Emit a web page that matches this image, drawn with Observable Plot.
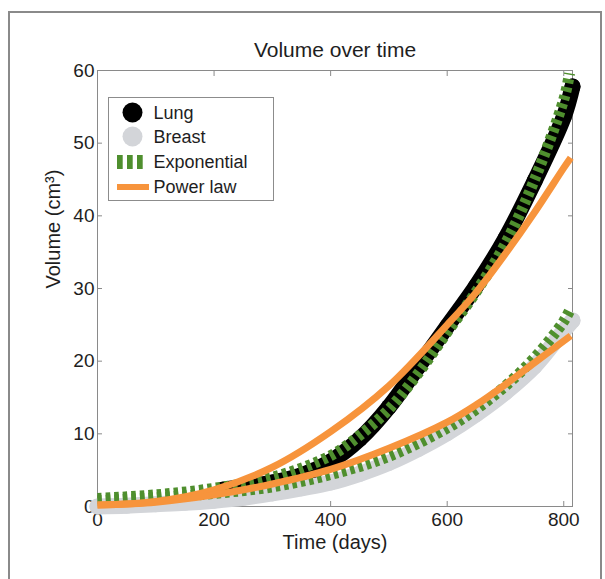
<!DOCTYPE html>
<html><head><meta charset="utf-8">
<script src="https://cdn.jsdelivr.net/npm/d3@7"></script>
<script src="https://cdn.jsdelivr.net/npm/@observablehq/plot@0.6"></script>
<style>
html,body{margin:0;padding:0;background:#fff;}
#wrap{position:relative;width:605px;height:579px;overflow:hidden;font-family:"Liberation Sans",Arial,Helvetica,sans-serif;background:#fff;}
#frame{position:absolute;left:8px;top:11px;width:590px;height:640px;border:2px solid #8a8a8a;}
#chart{position:absolute;left:0;top:0;}
#legend{position:absolute;left:108px;top:97px;width:164px;height:102px;border:1px solid #8c8c8c;background:#fff;}
</style></head><body>
<div id="wrap"><div id="frame"></div><div id="chart"></div><div id="legend"></div></div>
<script>
// ---- data ----
const title = "Volume over time";
const xLabel = "Time (days)";
const yLabel = "Volume (cm³)";
const xTicks = [0, 200, 400, 600, 800];
const yTicks = [0, 10, 20, 30, 40, 50, 60];
const legendLabels = ["Lung", "Breast", "Exponential", "Power law"];

const lungDays   = [215, 250, 300, 350, 400, 450, 500, 550, 600, 650, 700, 750, 800, 815];
const lungVolume = [2.3, 2.7, 3.3, 4.3, 6.2, 9.3, 13.7, 19.2, 24.8, 30.4, 36.9, 44.8, 53.6, 57.8];

const breastDays   = [0, 50, 100, 150, 200, 250, 300, 350, 400, 450, 500, 550, 600, 650, 700, 750, 800, 815];
const breastVolume = [0, 0.1, 0.3, 0.5, 0.8, 1.2, 1.8, 2.5, 3.3, 4.5, 6.0, 7.9, 10.1, 12.7, 15.7, 19.3, 24.2, 25.6];

const lungExpDays   = [0, 100, 200, 300, 400, 450, 500, 550, 600, 650, 700, 750, 800, 810];
const lungExpVolume = [1.1, 1.6, 2.5, 4.0, 7.0, 9.8, 13.4, 18.3, 24.0, 29.6, 36.2, 45.0, 56.0, 59.6];

const breastExpDays   = [0, 100, 200, 300, 400, 500, 600, 650, 700, 750, 800, 812];
const breastExpVolume = [0.8, 1.2, 1.8, 2.7, 4.4, 6.9, 10.8, 13.4, 16.6, 20.5, 25.5, 27.3];

const lungPowDays   = [0, 100, 200, 300, 400, 500, 600, 650, 700, 750, 800, 812];
const lungPowVolume = [0.2, 0.7, 2.3, 5.4, 10.3, 16.6, 25.0, 29.5, 34.8, 40.5, 46.6, 48.0];

const breastPowDays   = [0, 100, 200, 300, 400, 500, 600, 650, 700, 750, 812];
const breastPowVolume = [0.2, 0.6, 1.6, 3.1, 5.1, 8.0, 11.6, 14.0, 16.8, 19.8, 23.5];

// ---- styles ----
const BLACK = "#000000", GRAY = "#d3d5d9", GREEN = "#4f8f2e", ORANGE = "#f7943c", AXIS = "#8a8a8a", TEXT = "#1e1e1e";
const FONT = "Liberation Sans, Arial, Helvetica, sans-serif";

const zip = (xs, ys) => xs.map((x, i) => ({day: x, volume: ys[i]}));
const lung = zip(lungDays, lungVolume);
const breast = zip(breastDays, breastVolume);
const lungExp = zip(lungExpDays, lungExpVolume);
const breastExp = zip(breastExpDays, breastExpVolume);
const lungPow = zip(lungPowDays, lungPowVolume);
const breastPow = zip(breastPowDays, breastPowVolume);

const dataLine = (data, color) => Plot.line(data, {x: "day", y: "volume", stroke: color, strokeWidth: 16, strokeLinecap: "round", strokeLinejoin: "round", curve: "catmull-rom"});
const dataDots = (data, color) => Plot.dot(data, {x: "day", y: "volume", r: 8, fill: color, stroke: "none"});
const expLine = (data) => Plot.line(data, {x: "day", y: "volume", stroke: GREEN, strokeWidth: 11, strokeDasharray: "4.5,4", strokeLinecap: "butt", strokeLinejoin: "miter", curve: "catmull-rom"});
const powLine = (data) => Plot.line(data, {x: "day", y: "volume", stroke: ORANGE, strokeWidth: 7, strokeLinecap: "butt", curve: "catmull-rom"});

const chart = Plot.plot({
  width: 605, height: 579,
  marginLeft: 97, marginRight: 33, marginTop: 70, marginBottom: 73,
  x: {domain: [0, 815]},
  y: {domain: [0, 60]},
  style: {fontFamily: FONT, background: "transparent", color: TEXT},
  marks: [
    Plot.frame({stroke: AXIS}),
    Plot.axisX(xTicks, {anchor: "bottom", tickSize: -5, tickFormat: () => "", label: null, stroke: AXIS}),
    Plot.axisX(xTicks, {anchor: "top", tickSize: -5, tickFormat: () => "", label: null, stroke: AXIS}),
    Plot.axisY(yTicks, {anchor: "left", tickSize: -5, tickFormat: () => "", label: null, stroke: AXIS}),
    Plot.axisY(yTicks, {anchor: "right", tickSize: -5, tickFormat: () => "", label: null, stroke: AXIS}),
    Plot.axisX(xTicks, {anchor: "bottom", tickSize: 0, tickPadding: 6, fontSize: 19, label: null, fill: TEXT}),
    Plot.axisY(yTicks, {anchor: "left", tickSize: 0, tickPadding: 3, fontSize: 19, label: null, fill: TEXT}),
    Plot.text([title], {text: d => d, frameAnchor: "top", lineAnchor: "middle", dy: -20, fontSize: 21, fill: TEXT}),
    Plot.text([xLabel], {text: d => d, frameAnchor: "bottom", lineAnchor: "middle", dy: 36, fontSize: 20, fill: TEXT}),
    Plot.text([yLabel], {text: d => d, frameAnchor: "left", lineAnchor: "middle", dx: -44, rotate: -90, fontSize: 20, fill: TEXT}),
    dataLine(lung, BLACK), dataDots(lung, BLACK),
    dataLine(breast, GRAY), dataDots(breast, GRAY),
    expLine(lungExp), expLine(breastExp),
    powLine(lungPow), powLine(breastPow)
  ]
});
document.getElementById("chart").appendChild(chart);

// ---- legend (inside the axes, top-left) ----
const rowY = [14.5, 38.5, 64, 89];
const ns = "http://www.w3.org/2000/svg";
const lg = document.createElementNS(ns, "svg");
lg.setAttribute("width", 164); lg.setAttribute("height", 102);
lg.style.display = "block";
const symbols = [
  `<circle cx="23.5" cy="${rowY[0]}" r="10" fill="${BLACK}"/>`,
  `<circle cx="23.5" cy="${rowY[1]}" r="10" fill="${GRAY}"/>`,
  `<line x1="8" x2="35" y1="${rowY[2]}" y2="${rowY[2]}" stroke="${GREEN}" stroke-width="14" stroke-dasharray="5.7,4.3"/>`,
  `<line x1="8" x2="40" y1="${rowY[3]}" y2="${rowY[3]}" stroke="${ORANGE}" stroke-width="6"/>`
];
lg.innerHTML = symbols.join("") + legendLabels.map((t, i) =>
  `<text x="44.5" y="${rowY[i]}" dy="0.35em" font-size="18" font-family="${FONT}" fill="${TEXT}">${t}</text>`).join("");
document.getElementById("legend").appendChild(lg);
</script>
</body></html>
